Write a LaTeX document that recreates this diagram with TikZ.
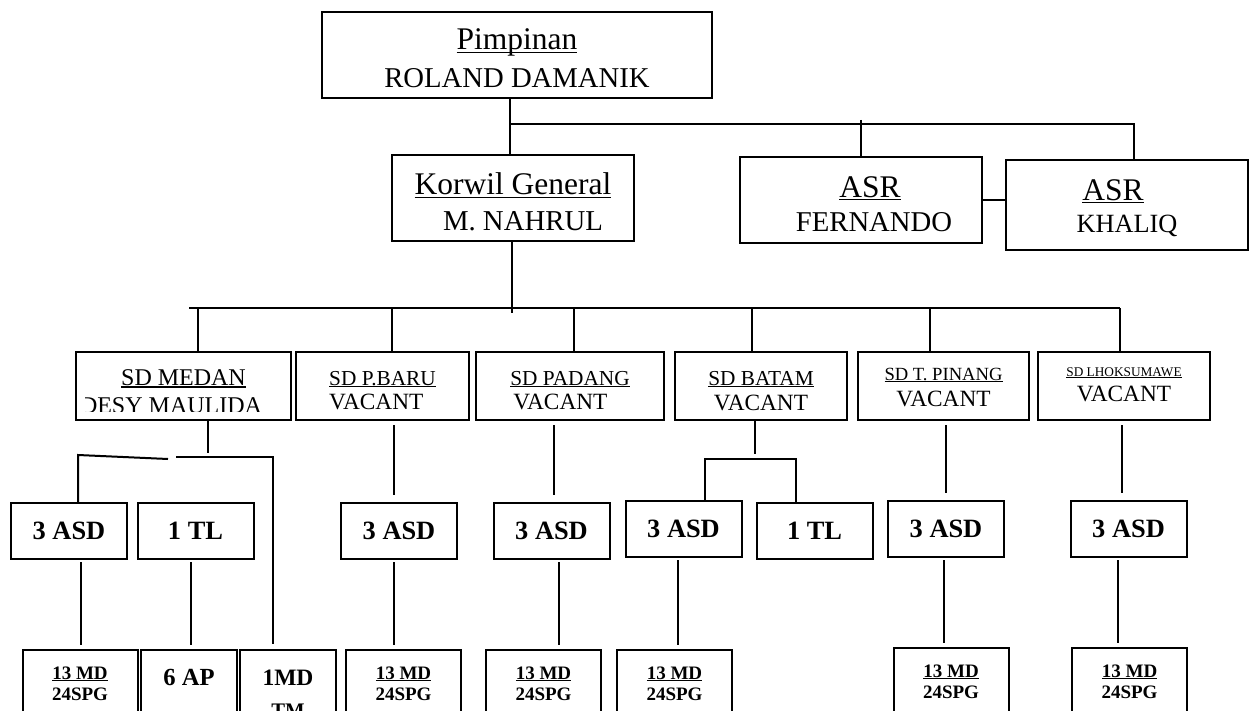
\documentclass[tikz,border=0pt]{standalone}
\usepackage{fontspec}
\setmainfont{Liberation Serif}
\newcommand\fsz[1]{\fontsize{#1}{#1}\selectfont}
\newcommand\uln[1]{\setbox0\hbox{#1}\rlap{\rule[-0.11em]{\wd0}{0.055em}}\box0}
\tikzset{
	wire/.style={draw=black,line width=1pt},
	box/.style={draw=black,line width=1pt,inner sep=0pt,anchor=base},
	unit/.style={draw=black,line width=1pt,inner sep=0pt,font=\bfseries\fsz{13.2pt},
		minimum width=58pt,minimum height=28pt},
	team/.style={box,align=center,minimum width=57.5pt,text height=25pt,text depth=20pt,
		font=\bfseries\fontsize{9.5pt}{10.5pt}\selectfont},
}
\begin{document}
\begin{tikzpicture}[x=0.5pt,y=-0.5pt]
	\useasboundingbox (0,0) rectangle (1251,711);
	\clip (0,0) rectangle (1251,711);
	% top level
	\node[box,align=center,minimum width=195pt,text height=38pt,text depth=5pt,
		font=\fontsize{15.75pt}{19pt}\selectfont] (pim) at (517,88)
		{\uln{Pimpinan}\\{\fsz{14.35pt}ROLAND DAMANIK}};
	\node[box,align=center,minimum width=121pt,text height=37.5pt,text depth=5.5pt,
		font=\fontsize{15.75pt}{17.5pt}\selectfont] (korwil) at (513,230)
		{\uln{Korwil General}\\{\fsz{14.4pt}\hspace*{10pt}M. NAHRUL}};
	\node[box,align=center,minimum width=121pt,text height=37pt,text depth=6pt,
		font=\fontsize{15.75pt}{17pt}\selectfont] (asr1) at (861,231)
		{\hspace*{9pt}\uln{ASR}\\{\fsz{14.35pt}\hspace*{13pt}FERNANDO}};
	\node[box,align=center,minimum width=121pt,text height=36.5pt,text depth=8.5pt,
		font=\fontsize{15.75pt}{16.5pt}\selectfont] (asr2) at (1127,233)
		{\uln{ASR}\hspace*{14pt}\\{\fsz{13.15pt}KHALIQ}};
	\coordinate (hub) at (510,124);
	\coordinate (hubR) at (1134,124);
	\draw[wire] (pim.south -| hub) -- (korwil.north -| hub);
	\draw[wire] (hub) -- (hubR) -- (hubR |- asr2.north);
	\draw[wire] ([yshift=2pt]hub -| asr1.north) -- (asr1.north);
	\draw[wire] (asr1.east) -- (asr1.east -| asr2.west);

	% SD row
	\node[box,minimum width=107.5pt,text height=16.5pt,text depth=17.5pt] (medan) at (183.5,385) {};
	\begin{scope}
		\clip (85,352) rectangle (291,411);
		\node[anchor=base,align=center,inner sep=0pt,font=\fontsize{12pt}{14.25pt}\selectfont] (medantxt)
			at (171,413.5) {\hspace*{12.5pt}\uln{SD MEDAN}\\DESY MAULIDA};
	\end{scope}
	\node[box,align=left,minimum width=86.5pt,text height=28.65pt,text depth=5.35pt,
		font=\fontsize{11.65pt}{12.15pt}\selectfont] (pbaru) at (382.5,409.3)
		{{\fsz{10.65pt}\uln{SD P.BARU}}\\VACANT};
	\node[box,align=left,minimum width=94pt,text height=28.65pt,text depth=5.35pt,
		font=\fontsize{11.65pt}{12.15pt}\selectfont] (padang) at (570,409.3)
		{{\fsz{10.65pt}\uln{SD PADANG}}\\\hspace*{1.5pt}VACANT};
	\node[box,align=center,minimum width=86pt,text height=29pt,text depth=5pt,
		font=\fontsize{11.65pt}{12.5pt}\selectfont] (batam) at (761,410)
		{{\fsz{10.65pt}\uln{SD BATAM}}\\VACANT};
	\node[box,align=center,minimum width=85.5pt,text height=27pt,text depth=7pt,
		font=\fontsize{11.65pt}{13pt}\selectfont] (tpinang) at (943.5,406)
		{{\fsz{9.3pt}\uln{SD T. PINANG}}\\VACANT};
	\node[box,align=center,minimum width=86pt,text height=24.5pt,text depth=9.5pt,
		font=\fontsize{11.65pt}{12.5pt}\selectfont] (lhok) at (1124,401)
		{{\fsz{6.65pt}\uln{SD LHOKSUMAWE}}\\VACANT};
	\coordinate (bus) at (512,308);
	\draw[wire] (korwil.south -| bus) -- ([yshift=-2.5pt]bus);
	\draw[wire] (189,308) -- (1120,308);
	\foreach \n/\x in {medan/198,pbaru/392,padang/574,batam/752,tpinang/930,lhok/1120}
	\draw[wire] (\x,308) -- (\n.north -| \x,0);

	% ASD row
	\foreach \n/\x/\y/\t in {a1/69/531/3 ASD,t1/195.5/531/1 TL,a2/399/531/3 ASD,a3/551.5/531/3 ASD,
		a4/683.5/529/3 ASD,t4/814.5/531/1 TL,a5/946/529/3 ASD,a6/1128.5/529/3 ASD}
	\node[unit] (\n) at (\x,\y) {\t};

	% bottom row
	\node[team] (b1) at (80,700) {\uln{13 MD}\\24SPG};
	\node[team,minimum width=48pt,text height=17.5pt,text depth=27.5pt,font=\bfseries\fsz{12.3pt}] (b2) at (189,685) {6 AP};
	\node[team,minimum width=48pt,text height=33.5pt,text depth=11.5pt,
		font=\bfseries\fontsize{11.75pt}{16pt}\selectfont] (b3) at (288,717) {1MD\\{\fsz{10.35pt}TM}};
	\node[team] (b4) at (403.5,700) {\uln{13 MD}\\24SPG};
	\node[team] (b5) at (543.5,700) {\uln{13 MD}\\24SPG};
	\node[team] (b6) at (674.5,700) {\uln{13 MD}\\24SPG};
	\node[team] (b7) at (951,698) {\uln{13 MD}\\24SPG};
	\node[team] (b8) at (1129.5,698) {\uln{13 MD}\\24SPG};

	% medan branch
	\coordinate (mj) at (208,453);
	\coordinate (mL) at (78,455);
	\coordinate (mR) at (273,457);
	\draw[wire] (medan.south -| mj) -- (mj);
	\draw[wire] (a1.north -| mL) -- (mL) -- (168,459);
	\draw[wire,shorten >=2.5pt] (176,457) -- (mR) -- (b3.north -| mR);
	% batam branch
	\coordinate (bj) at (755,459);
	\coordinate (bL) at (705,459);
	\coordinate (bR) at (796,459);
	\draw[wire] (batam.south -| bj) -- ++(0,33);
	\draw[wire] (a4.north -| bL) -- (bL) -- (bR) -- (t4.north -| bR);
	% SD to ASD
	\foreach \u/\v/\x in {pbaru/a2/394,padang/a3/554,tpinang/a5/946,lhok/a6/1122}
	\draw[wire,shorten <=2pt,shorten >=3.5pt] (\u.south -| \x,0) -- (\v.north -| \x,0);
	% ASD to teams
	\foreach \u/\v/\x in {a1/b1/81,t1/b2/191,a2/b4/394,a3/b5/559,a4/b6/678,a5/b7/944,a6/b8/1118}
	\draw[wire,shorten <=1pt,shorten >=2pt] (\u.south -| \x,0) -- (\v.north -| \x,0);
\end{tikzpicture}
\end{document}
